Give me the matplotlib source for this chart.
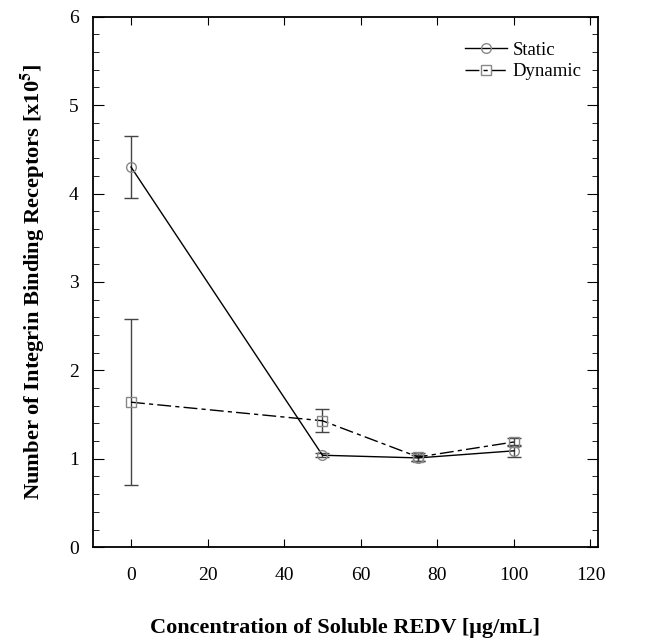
import matplotlib
matplotlib.use("Agg")
import matplotlib.pyplot as plt

# --- data ---
conc = [0, 50, 75, 100]

static_mean = [4.30, 1.04, 1.01, 1.09]
static_err = [0.35, 0.02, 0.03, 0.07]

dynamic_mean = [1.64, 1.43, 1.02, 1.19]
dynamic_err = [0.94, 0.13, 0.04, 0.05]

plt.rcParams["font.family"] = ["Liberation Serif", "DejaVu Serif"]
plt.rcParams["mathtext.fontset"] = "stix"

fig = plt.figure(figsize=(6.53, 6.43), dpi=100)
ax = fig.add_axes([0.142, 0.149, 0.774, 0.825])

marker_kw = dict(ms=7, mfc="none", mec="#888888", mew=1.0)
err_kw = dict(fmt="none", ecolor="#444444", elinewidth=1.0, capsize=5, capthick=1.0)

# error bars first, then lines + markers (keeps error bars out of the legend)
ax.errorbar(conc, static_mean, yerr=static_err, **err_kw)
ax.errorbar(conc, dynamic_mean, yerr=dynamic_err, **err_kw)
ax.plot(conc, static_mean, color="black", lw=1.0, marker="o",
        label="Static", **marker_kw)
ax.plot(conc, dynamic_mean, color="black", lw=1.0, ls=(0, (10, 3, 3, 3)),
        marker="s", label="Dynamic", **marker_kw)

ax.set_xlim(-10, 122)
ax.set_ylim(0, 6)
ax.set_xticks([0, 20, 40, 60, 80, 100, 120])
ax.set_yticks(range(0, 7))
ax.set_yticks([i * 0.2 for i in range(31)], minor=True)

ax.tick_params(axis="both", which="both", direction="in", top=True, right=True,
               labelsize=14)
ax.tick_params(axis="x", which="major", length=6, pad=14)
ax.tick_params(axis="y", which="major", length=8, pad=10)
ax.tick_params(axis="y", which="minor", length=4)
for s in ax.spines.values():
    s.set_linewidth(1.3)

ax.set_xlabel("Concentration of Soluble REDV [\u03bcg/mL]", fontsize=16,
              fontweight="bold", labelpad=25)
ax.set_ylabel("Number of Integrin Binding Receptors [x10$^{\\mathbf{5}}$]",
              fontsize=16.2, fontweight="bold", labelpad=16)

ax.legend(loc="upper right", frameon=False, fontsize=13.5,
          handlelength=2.2, handletextpad=0.3, labelspacing=0.25,
          bbox_to_anchor=(1.0, 0.985))

fig.savefig("out.png", dpi=100)
